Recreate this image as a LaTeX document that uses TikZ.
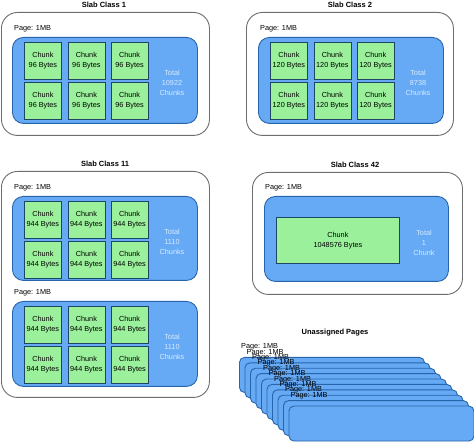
\documentclass[tikz,border=0pt]{standalone}
\usepackage{fontspec}
\setmainfont{Liberation Sans}
\definecolor{pageblue}{RGB}{102,170,245}
\definecolor{pageedge}{RGB}{40,100,170}
\definecolor{chunkgreen}{RGB}{155,240,155}
\definecolor{chunkedge}{RGB}{30,70,100}
\definecolor{slabedge}{RGB}{110,110,110}
\definecolor{totaltext}{RGB}{215,235,255}
\newcommand\smalltxt{\fontsize{7.3}{9.7}\selectfont}
\newcommand\titletxt{\fontsize{7.5}{9}\selectfont\bfseries}
\begin{document}
\begin{tikzpicture}[x=1pt,y=-1pt,
  slab/.style={draw=slabedge, fill=white, line width=0.9pt, rounded corners=16pt, anchor=north west, inner sep=0pt},
  pagebox/.style={draw=pageedge, fill=pageblue, line width=0.9pt, rounded corners=11pt, anchor=north west, inner sep=0pt},
  chunkbox/.style={draw=chunkedge, fill=chunkgreen, line width=0.8pt, anchor=north west, inner sep=0pt, minimum width=37pt, minimum height=37pt, align=center, font=\smalltxt},
  title/.style={font=\titletxt, inner sep=0pt},
  pagelabel/.style={anchor=west, inner sep=0pt, font=\smalltxt},
  total/.style={text=totaltext, align=center, font=\smalltxt, inner sep=0pt},
  freepage/.style={draw=pageedge, fill=pageblue, line width=0.9pt, rounded corners=5pt, anchor=north west, inner sep=0pt, minimum width=185pt, minimum height=35pt}
]
\useasboundingbox (0,0) rectangle (474,443);

% Slab Class 1
\node[title] (t1) at (104,5) {Slab Class 1};
\node[slab, minimum width=208pt, minimum height=123pt] (s1) at (1,12) {};
\node[pagelabel] (p1l) at (14,29) {Page: 1MB};
\node[pagebox, minimum width=185pt, minimum height=86pt] (p1) at (12,37) {};
\foreach \c/\x in {a/24,b/67.5,c/110.7}{
  \foreach \r/\y in {1/42,2/82}{
    \node[chunkbox] (c1\c\r) at (\x,\y) {Chunk\\96 Bytes};
  }
}
\node[total] (tot1) at (172,83) {Total\\10922\\Chunks};

% Slab Class 2
\node[title] (t2) at (350,5) {Slab Class 2};
\node[slab, minimum width=207pt, minimum height=123pt] (s2) at (246,12) {};
\node[pagelabel] (p2l) at (260,29) {Page: 1MB};
\node[pagebox, minimum width=185pt, minimum height=86pt] (p2) at (258,37) {};
\foreach \c/\x in {a/270,b/313.5,c/356.7}{
  \foreach \r/\y in {1/42,2/82}{
    \node[chunkbox] (c2\c\r) at (\x,\y) {Chunk\\120 Bytes};
  }
}
\node[total] (tot2) at (418,83) {Total\\8738\\Chunks};

% Slab Class 11
\node[title] (t11) at (105,164) {Slab Class 11};
\node[slab, minimum width=208pt, minimum height=226pt] (s11) at (1,171) {};
\node[pagelabel] (p11al) at (14,188) {Page: 1MB};
\node[pagebox, minimum width=185pt, minimum height=84pt] (p11a) at (12,196) {};
\foreach \c/\x in {a/24,b/67.5,c/110.7}{
  \foreach \r/\y in {1/201,2/241}{
    \node[chunkbox] (c11a\c\r) at (\x,\y) {Chunk\\944 Bytes};
  }
}
\node[total] (tot11a) at (172,242) {Total\\1110\\Chunks};
\node[pagelabel] (p11bl) at (14,293) {Page: 1MB};
\node[pagebox, minimum width=185pt, minimum height=85pt] (p11b) at (12,301) {};
\foreach \c/\x in {a/24,b/67.5,c/110.7}{
  \foreach \r/\y in {1/306,2/346}{
    \node[chunkbox] (c11b\c\r) at (\x,\y) {Chunk\\944 Bytes};
  }
}
\node[total] (tot11b) at (172,347) {Total\\1110\\Chunks};

% Slab Class 42
\node[title] (t42) at (355,165) {Slab Class 42};
\node[slab, minimum width=210pt, minimum height=122pt] (s42) at (252,172) {};
\node[pagelabel] (p42l) at (265,188) {Page: 1MB};
\node[pagebox, minimum width=184pt, minimum height=85pt] (p42) at (264,196) {};
\node[chunkbox, minimum width=123pt, minimum height=46pt] (c42) at (276,217) {Chunk\\1048576 Bytes};
\node[total] (tot42) at (424,243) {Total\\1\\Chunk};

% Unassigned Pages
\node[title] (tu) at (335,333) {Unassigned Pages};
\foreach \k [evaluate=\k as \bx using 239+5.5*\k, evaluate=\k as \by using 357+5.4*\k] in {0,...,9}{
  \node[freepage] (fp\k) at (\bx,\by) {};
  \node[pagelabel] (fl\k) at (\bx+2,\by-10) {Page: 1MB};
}
\end{tikzpicture}
\end{document}
